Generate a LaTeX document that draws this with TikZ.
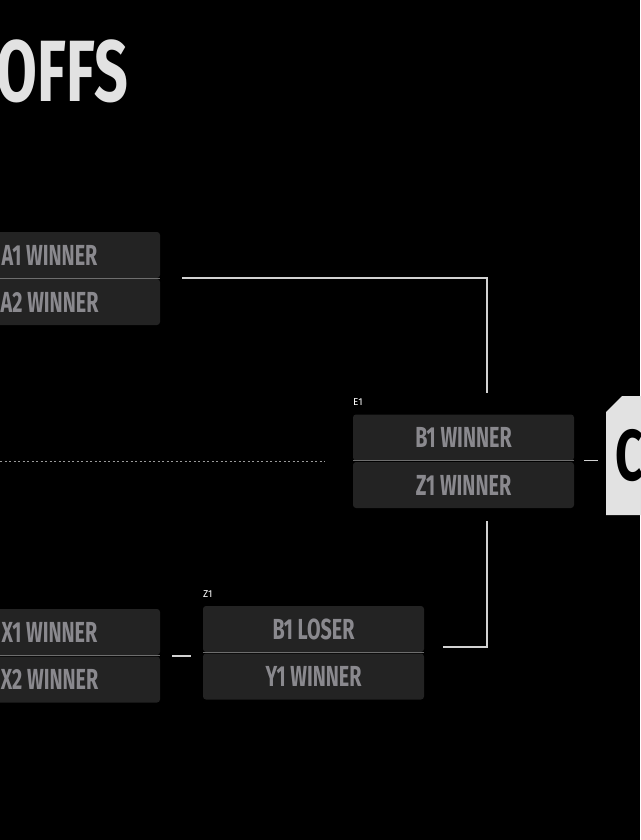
\documentclass[tikz,border=0pt]{standalone}
\usepackage{fontspec}
\setmainfont{Fira Sans}
\newfontfamily\condfont[FakeStretch=0.68]{Fira Sans}
\usetikzlibrary{calc,shapes.misc}

\definecolor{slotfill}{HTML}{232323}
\definecolor{slottext}{HTML}{8A898E}
\definecolor{seamgray}{HTML}{6E6E6E}
\definecolor{wiregray}{HTML}{D2D2D2}
\definecolor{feedgray}{HTML}{9A9A9A}
\definecolor{champgray}{HTML}{E2E2E2}

\tikzset{
  slot/.style={fill=slotfill, rounded corners=3, minimum width=221, minimum height=46,
    inner sep=0, text=slottext, font=\condfont\bfseries\fontsize{29}{29}\selectfont},
  seam/.style={draw=seamgray, line width=1.3},
  wire/.style={draw=wiregray, line width=1.5},
  feed/.style={draw=feedgray, line width=1.3, dash pattern=on 2 off 2.5},
  roundtag/.style={text=white, inner sep=0, font=\fontsize{10}{10}\selectfont},
  champbox/.style={chamfered rectangle, chamfered rectangle corners=north west,
    chamfered rectangle xsep=8, chamfered rectangle ysep=8, fill=champgray,
    minimum width=80, minimum height=119, inner xsep=1, inner ysep=0, text width=62,
    align=left, text=black, font=\condfont\bfseries\fontsize{72}{72}\selectfont},
}

\begin{document}
\begin{tikzpicture}[x=1pt,y=-1pt]
  \fill[black] (0,0) rectangle (640,840);
  \useasboundingbox (0,0) rectangle (640,840);

  % title
  \node[anchor=base east, inner sep=0, text=champgray,
    font=\condfont\bfseries\fontsize{87}{87}\selectfont] (title) at (128,102) {OFFS};

  % first column
  \node[slot] (a1) at (49.5,255) {A1 WINNER};
  \node[slot] (a2) at (49.5,302) {A2 WINNER};
  \draw[seam] (a1.south west) -- (a1.south east);

  \node[slot] (x1) at (49.5,632) {X1 WINNER};
  \node[slot] (x2) at (49.5,679.5) {X2 WINNER};
  \draw[seam] (x1.south west) -- (x1.south east);

  % Z1
  \node[roundtag, anchor=base west] (z1tag) at (203,597) {Z1};
  \node[slot] (z1a) at (313.5,629) {B1 LOSER};
  \node[slot] (z1b) at (313.5,676.5) {Y1 WINNER};
  \draw[seam] (z1a.south west) -- (z1a.south east);

  % E1
  \node[roundtag, anchor=base west] (e1tag) at (353,405) {E1};
  \node[slot] (e1a) at (463.5,437.5) {B1 WINNER};
  \node[slot] (e1b) at (463.5,485) {Z1 WINNER};
  \draw[seam] (e1a.south west) -- (e1a.south east);

  % final
  \node[champbox, anchor=west] (final) at (606,455.5) {C};

  % connectors
  \coordinate (a-out) at ($(a1.south east)+(22,0)$);
  \coordinate (e1-in) at ($(e1a.north)+(23.5,-21)$);
  \draw[wire] (a-out) -| (e1-in);

  \coordinate (e1-low) at ($(e1b.south)+(23.5,13)$);
  \coordinate (z1-out) at ($(z1a.south east)+(19,-5)$);
  \draw[wire] (e1-low) |- (z1-out);

  \coordinate (x-out) at ($(x1.south east)+(12,1)$);
  \draw[wire, shorten >=12] (x-out) -- (x-out -| z1a.west);

  \coordinate (e1-out) at ($(e1a.south east)+(10,0)$);
  \draw[wire, shorten >=8] (e1-out) -- (e1-out -| final.west);

  \coordinate (left-feed) at (0,461.5);
  \draw[feed, shorten >=28] (left-feed) -- (left-feed -| e1a.west);
\end{tikzpicture}
\end{document}
